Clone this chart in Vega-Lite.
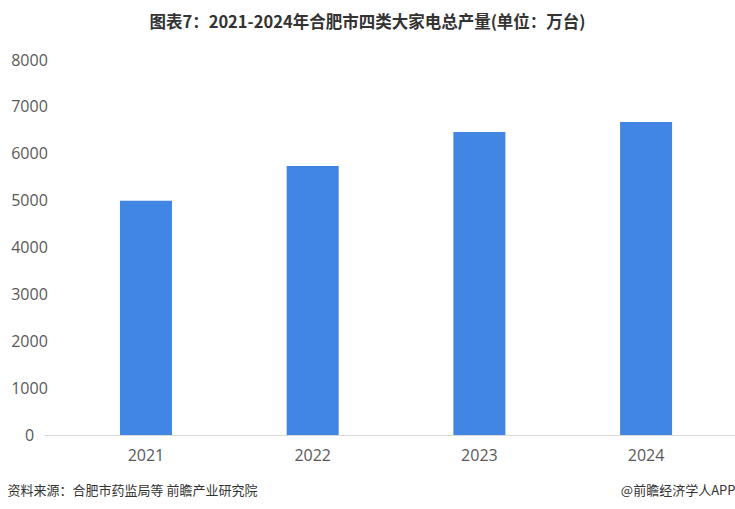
{
  "$schema": "https://vega.github.io/schema/vega-lite/v6.json",
  "width": 691,
  "height": 375,
  "autosize": {"type": "none"},
  "padding": {"left": 44, "top": 60, "right": 0, "bottom": 74},
  "background": "white",
  "title": {
    "text": "图表7：2021-2024年合肥市四类大家电总产量(单位：万台)",
    "anchor": "middle",
    "frame": "group",
    "dx": -22,
    "offset": 5,
    "baseline": "bottom",
    "font": "Noto Sans CJK SC",
    "fontSize": 16.5,
    "fontWeight": "bold",
    "color": "#333333"
  },
  "data": {
    "values": [
      {"year": "2021", "value": 5000},
      {"year": "2022", "value": 5740},
      {"year": "2023", "value": 6465},
      {"year": "2024", "value": 6680}
    ]
  },
  "mark": {"type": "bar", "color": "#4286e3"},
  "encoding": {
    "x": {
      "field": "year",
      "type": "ordinal",
      "scale": {"paddingInner": 0.688, "paddingOuter": 0.4165, "align": 0.547},
      "axis": {
        "title": "资料来源：合肥市药监局等 前瞻产业研究院",
        "titleX": -37,
        "titleY": 55,
        "titleAlign": "left",
        "titleBaseline": "middle",
        "titleFont": "Noto Sans CJK SC",
        "titleFontSize": 13,
        "titleFontWeight": "normal",
        "titleColor": "#333333",
        "labelAngle": 0,
        "labelFont": "Open Sans",
        "labelFontSize": 16,
        "labelColor": "#595959",
        "labelPadding": 12,
        "ticks": false,
        "domainColor": "#d9d9d9",
        "domainWidth": 1,
        "grid": false
      }
    },
    "y": {
      "field": "value",
      "type": "quantitative",
      "scale": {"domain": [0, 8000], "nice": false},
      "axis": {
        "values": [0, 1000, 2000, 3000, 4000, 5000, 6000, 7000, 8000],
        "format": "d",
        "title": "@前瞻经济学人APP",
        "titleAngle": 0,
        "titleX": 691,
        "titleY": 430,
        "titleAlign": "right",
        "titleBaseline": "middle",
        "titleFont": "Noto Sans CJK SC",
        "titleFontSize": 13,
        "titleFontWeight": "normal",
        "titleColor": "#333333",
        "labelFont": "Open Sans",
        "labelFontSize": 16,
        "labelColor": "#595959",
        "labelAlign": "center",
        "labelPadding": 15,
        "ticks": false,
        "domain": false,
        "grid": false
      }
    }
  },
  "config": {"view": {"stroke": null}}
}
